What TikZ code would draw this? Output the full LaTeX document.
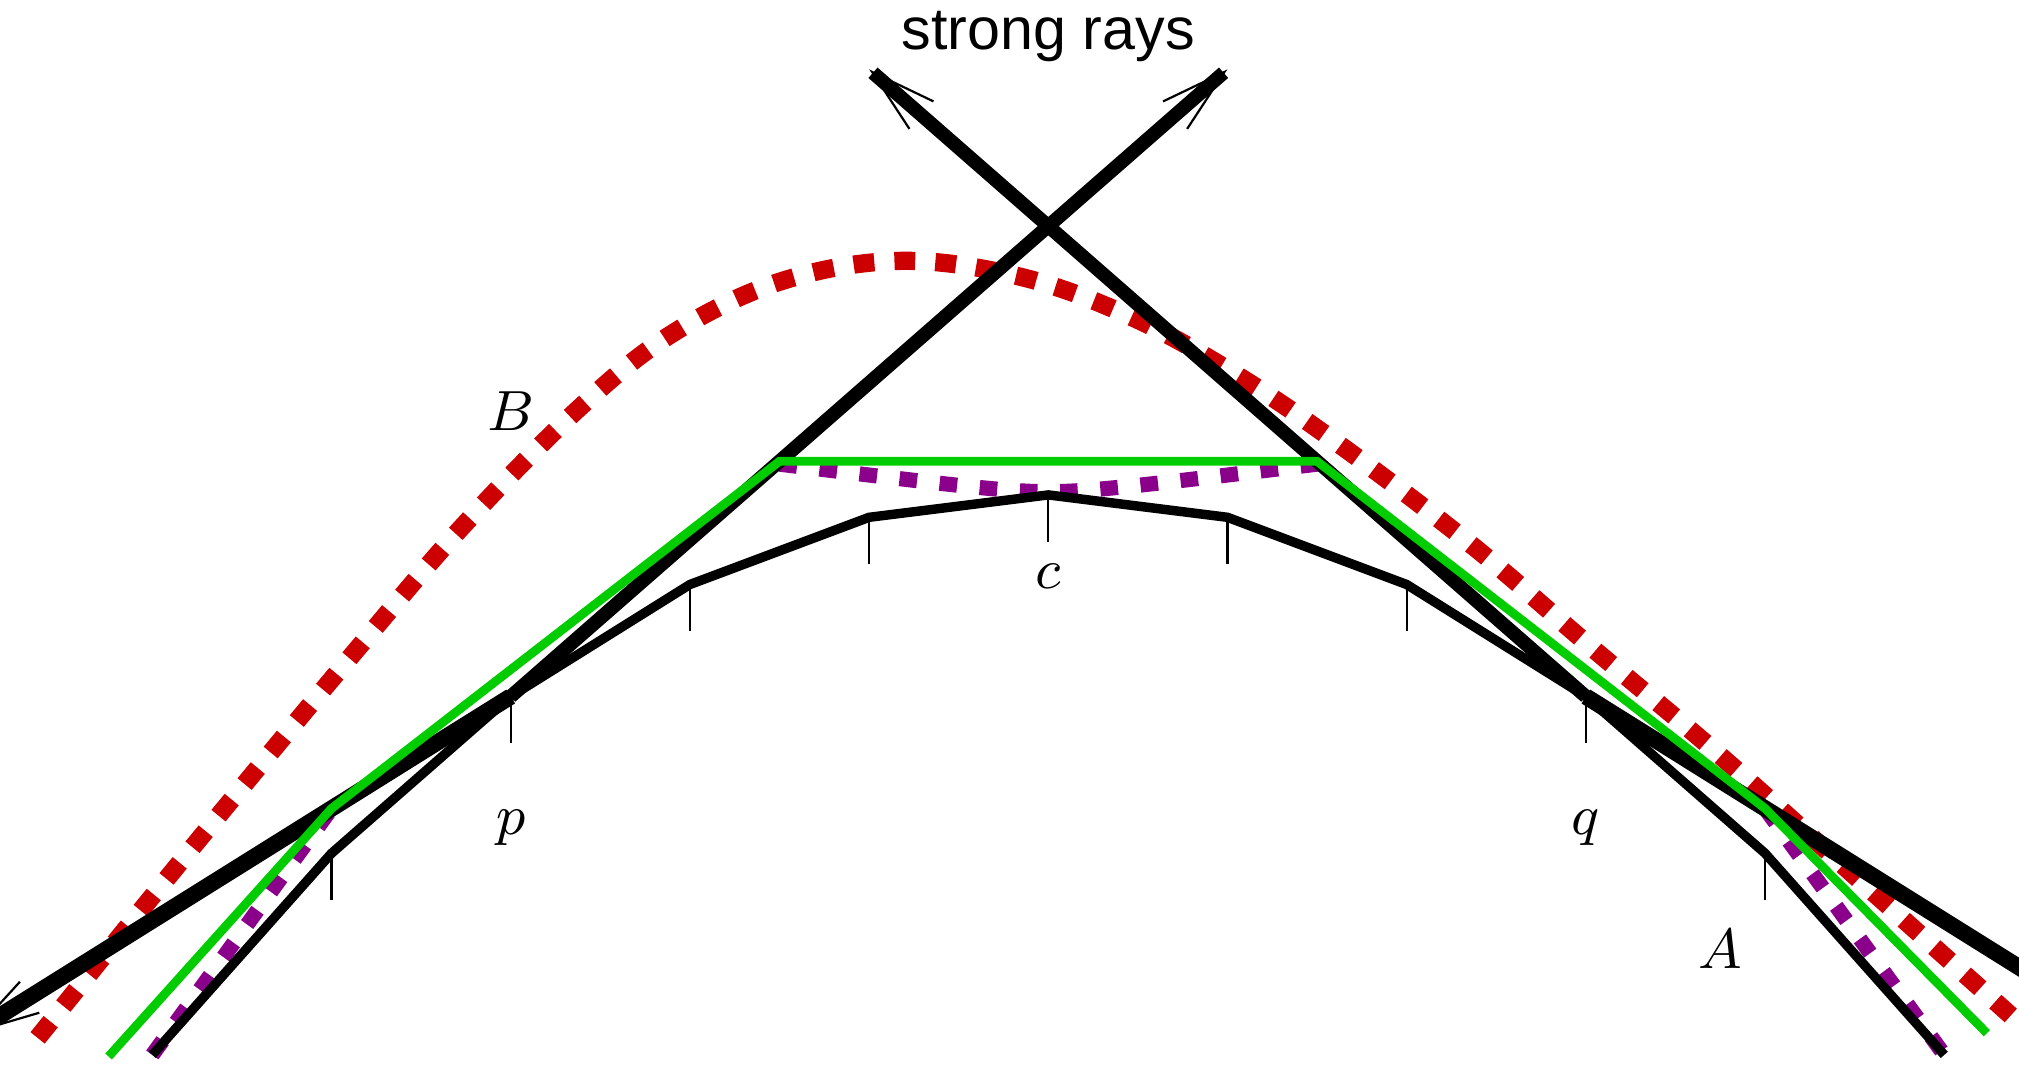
\documentclass[tikz,border=0pt]{standalone}
\usepackage{fontspec}
\newfontfamily\raysfont{Liberation Sans}
\usepackage{tikz}
\usetikzlibrary{arrows.meta}
\definecolor{hullred}{RGB}{204,0,0}
\definecolor{hullgreen}{RGB}{0,204,0}
\definecolor{hullpurple}{RGB}{139,0,139}

\begin{document}
\begin{tikzpicture}[
  x=1cm, y=1cm,
  graph/.style={line width=1.5pt},
  tick/.style={line width=0.35pt},
  barbtip/.style={-{Latex[length=9pt, width=2.4pt, sep=-9pt]
                    Straight Barb[length=10.4pt, width=5.8pt, line width=0.35pt]}},
  ray/.style={line width=2.2pt, barbtip},
  lowray/.style={line width=2.6pt, barbtip},
  upper/.style={hullred, line width=2.9pt, dash pattern=on 3.3pt off 3.2pt},
  lower/.style={hullpurple, line width=2.4pt, dash pattern=on 2.8pt off 3.6pt},
  hull/.style={hullgreen, line width=1.4pt},
  lbl/.style={anchor=base, inner sep=0pt, font=\fontsize{9.2}{11}\selectfont},
]
\useasboundingbox (-5.850,-3.181) rectangle (5.417,2.762);

% Vertices of the piecewise linear graph
\foreach \k in {-5,...,5}
  \coordinate (v\k) at (\k, {-(\k)*(\k)/8});

% Corners of the green hull
\coordinate (g1) at (-5.244,-3.134);
\coordinate (g2) at (-4,-1.75);
\coordinate (g3) at (-1.5,0.1875);
\coordinate (g4) at (1.5,0.1875);
\coordinate (g5) at (4,-1.75);
\coordinate (g6) at (5.238,-3.004);

% Ends of the strong rays
\coordinate (tipL)  at (1,2.375);
\coordinate (tipR)  at (-1,2.375);
\coordinate (tipLL) at (-6.014,-3.009);
\coordinate (tipRR) at (6.014,-3.009);

% Red dashed curve B
\draw[upper] plot[smooth, tension=0.6] coordinates {
  (-5.64,-3.03) (-5.03,-2.277) (-4.435,-1.553) (-3.877,-0.884)
  (-3.27,-0.177) (-2.639,0.465) (-2.11,0.893) (-1.498,1.19)
  (-0.831,1.306) (-0.158,1.218) (0.471,0.99) (1.067,0.66)
  (1.64,0.27) (2.362,-0.279) (3.048,-0.865) (3.745,-1.451)
  (4.587,-2.204) (5.5,-3.02)};

% Purple dashed curve (its middle part lies under the hull)
\draw[lower] (v-5) -- (g2);
\draw[lower] plot[domain=-1.5:1.5, samples=31, smooth]
  (\x, {0.018+0.125*(sqrt(\x*\x+0.09)-0.3)});
\draw[lower] (g5) -- (v5);

% Graph and ticks
\draw[graph] (v-5) \foreach \k in {-4,...,5} { -- (v\k) };
\foreach \k in {-4,...,4}
  \draw[tick] (v\k) -- ++(0,-0.26);

% Strong rays from p and q
\draw[ray]    (v-3) -- (tipL);
\draw[ray]    (v3)  -- (tipR);
\draw[lowray] (v-3) -- (tipLL);
\draw[lowray] (v3)  -- (tipRR);

% Green hull
\draw[hull] (g1) -- (g2) -- (g3) -- (g4) -- (g5) -- (g6);

% Labels
\node[anchor=base, inner sep=0pt, font=\raysfont\fontsize{9.4}{11}\selectfont]
  (title) at (0,2.483) {strong rays};
\node[lbl] (labB) at (-3,0.357)    {$B$};
\node[lbl] (labc) at (0,-0.52)     {$c$};
\node[lbl] (labp) at (-3,-1.897)   {$p$};
\node[lbl] (labq) at (3,-1.897)    {$q$};
\node[lbl] (labA) at (3.753,-2.641) {$A$};
\end{tikzpicture}
\end{document}
